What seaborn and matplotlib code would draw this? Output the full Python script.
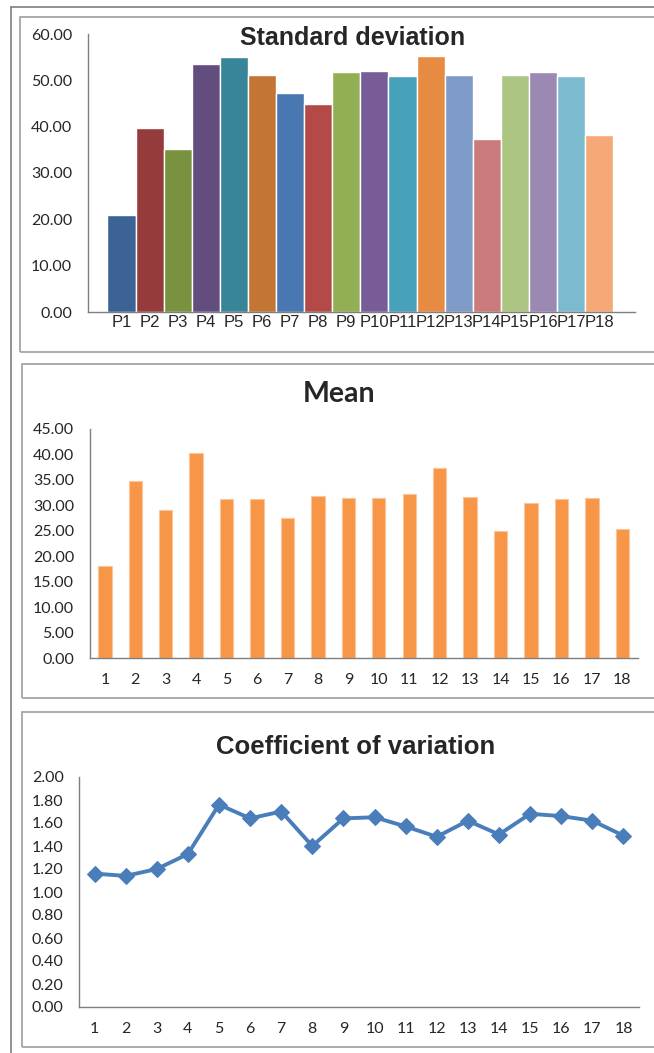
import matplotlib
matplotlib.use('Agg')
import numpy as np
import matplotlib.pyplot as plt
import matplotlib.ticker as mticker
from matplotlib.patches import Rectangle
from matplotlib.lines import Line2D
import seaborn as sns

# data
sd_labels = ['P1', 'P2', 'P3', 'P4', 'P5', 'P6', 'P7', 'P8', 'P9',
             'P10', 'P11', 'P12', 'P13', 'P14', 'P15', 'P16', 'P17', 'P18']
sd_values = [21.0, 39.7, 35.2, 53.6, 55.0, 51.1, 47.3, 44.9, 51.8,
             52.0, 50.9, 55.2, 51.1, 37.4, 51.1, 51.8, 50.9, 38.2]
sd_colors = ['#3B6495', '#953B3B', '#79923F', '#634D7E', '#38859A', '#C27535',
             '#4977B1', '#B34A48', '#93AF54', '#775C97', '#47A1BA', '#E68B41',
             '#7F9CC8', '#CB7B7B', '#ADC583', '#9B89B4', '#7CBAD0', '#F6A977']

mean_labels = ['1', '2', '3', '4', '5', '6', '7', '8', '9',
               '10', '11', '12', '13', '14', '15', '16', '17', '18']
mean_values = [18.0, 34.8, 29.1, 40.3, 31.2, 31.2, 27.5, 31.9, 31.4,
               31.4, 32.3, 37.3, 31.6, 25.0, 30.5, 31.2, 31.4, 25.4]

cv_x = [1, 2, 3, 4, 5, 6, 7, 8, 9, 10, 11, 12, 13, 14, 15, 16, 17, 18]
cv_values = [1.16, 1.14, 1.20, 1.33, 1.76, 1.64, 1.70, 1.40, 1.64,
             1.65, 1.57, 1.48, 1.62, 1.50, 1.68, 1.66, 1.62, 1.49]

W, H = 654, 1053
GRAY = '#7F7F7F'
ARIAL = 'Liberation Sans'
CALIBRI = 'Lato'

sns.set_style('white')
fig = plt.figure(figsize=(W / 100, H / 100), dpi=100)


def fx(px):
    return px / W


def fy(py):
    return 1 - py / H


def style(ax):
    sns.despine(ax=ax)
    for s in ['left', 'bottom']:
        ax.spines[s].set_color(GRAY)
        ax.spines[s].set_linewidth(1.0)
    ax.tick_params(axis='y', which='major', length=3.6, width=1.0, color=GRAY,
                   direction='out', pad=7.5, labelsize=11.5)
    ax.yaxis.set_major_formatter(mticker.FormatStrFormatter('%.2f'))
    for lbl in ax.get_yticklabels():
        lbl.set_fontfamily(CALIBRI)
    ax.set_xlabel('')
    ax.set_ylabel('')
    ax.set_facecolor('none')


# frames around each chart, like the Excel chart areas
fig.add_artist(Line2D([fx(10.5), fx(10.5)], [fy(7), fy(1053)], color='#7F7F7F', lw=1.2))
fig.add_artist(Line2D([fx(10.5), fx(654)], [fy(7), fy(7)], color='#7F7F7F', lw=1.2))
for left, top, bottom in [(20, 17, 352), (21.7, 364, 698), (21.7, 712, 1047)]:
    fig.add_artist(Rectangle((fx(left), fy(bottom)), fx(700 - left), (bottom - top) / H,
                             fill=False, ec='#A6A6A6', lw=1.3, transform=fig.transFigure))

# Standard deviation
ax1 = fig.add_axes([fx(87.5), fy(312), (634.6 - 87.5) / W, 278 / H])
sns.barplot(x=sd_labels, y=sd_values, hue=sd_labels, palette=sd_colors, width=1,
            saturation=1, legend=False, errorbar=None, ax=ax1)
ax1.set_xlim(-1.21, 18.26)
ax1.set_ylim(0, 60)
ax1.set_yticks(np.arange(0, 61, 10))
style(ax1)
ax1.tick_params(axis='x', which='major', length=0, pad=2.5, labelsize=12)
for lbl in ax1.get_xticklabels():
    lbl.set_fontfamily(ARIAL)
ax1.set_xticks([-1.21, 18.26], minor=True)
ax1.tick_params(axis='x', which='minor', length=4, width=1.0, color=GRAY)
fig.text(fx(353), fy(38), 'Standard deviation', ha='center', va='center',
         fontsize=18, fontweight='bold', family=ARIAL)

# Mean
ax2 = fig.add_axes([fx(89.6), fy(658), (637.5 - 89.6) / W, 229 / H])
sns.barplot(x=mean_labels, y=mean_values, color='#F79646', width=0.44, saturation=1,
            edgecolor='#FAC59B', linewidth=0.8, errorbar=None, ax=ax2)
ax2.set_xlim(-0.5, 17.5)
ax2.set_ylim(0, 45)
ax2.set_yticks(np.arange(0, 46, 5))
style(ax2)
ax2.tick_params(axis='x', which='major', length=0, pad=10.5, labelsize=11.5)
for lbl in ax2.get_xticklabels():
    lbl.set_fontfamily(CALIBRI)
ax2.set_xticks(np.arange(-0.5, 18, 1), minor=True)
ax2.tick_params(axis='x', which='minor', length=3.6, width=1.0, color=GRAY)
fig.text(fx(339), fy(394), 'Mean', ha='center', va='center',
         fontsize=20.5, fontweight='bold', family=CALIBRI)

# Coefficient of variation
ax3 = fig.add_axes([fx(79), fy(1007), (639 - 79) / W, 230 / H])
sns.lineplot(x=cv_x, y=cv_values, color='#4A7EBB', lw=2.8, marker='D', markersize=8,
             markeredgecolor='#4A7EBB', ax=ax3)
ax3.set_xlim(0.5, 18.5)
ax3.set_ylim(0, 2.0)
ax3.set_yticks(np.arange(0, 2.01, 0.2))
ax3.set_xticks(cv_x)
style(ax3)
ax3.tick_params(axis='x', which='major', length=0, pad=10.5, labelsize=11.5)
for lbl in ax3.get_xticklabels():
    lbl.set_fontfamily(CALIBRI)
ax3.set_xticks(np.arange(0.5, 19, 1), minor=True)
ax3.tick_params(axis='x', which='minor', length=3.6, width=1.0, color=GRAY)
fig.text(fx(355.6), fy(747), 'Coefficient of variation', ha='center', va='center',
         fontsize=18.5, fontweight='bold', family=ARIAL)

fig.savefig('out.png', dpi=100, facecolor='white')
